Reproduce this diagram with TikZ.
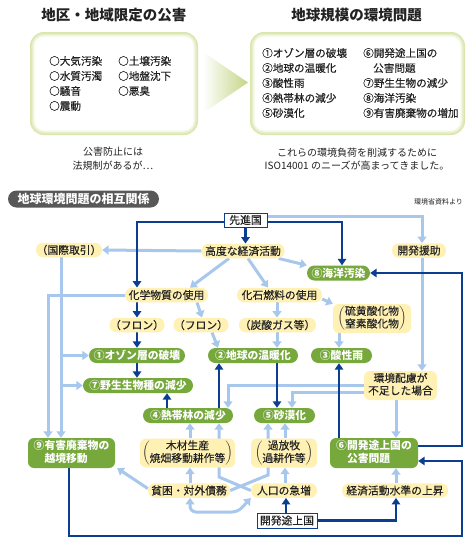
\documentclass[tikz,border=0pt]{standalone}
\usepackage{fontspec}
\setmainfont{Noto Sans CJK JP}
\newfontfamily\jpmed{Noto Sans CJK JP}[FakeBold=0.35]
\usetikzlibrary{arrows.meta}
\pgfdeclarelayer{bg}
\pgfsetlayers{bg,main}
\definecolor{ylw}{HTML}{FFF0B4}
\definecolor{grn}{HTML}{76A83B}
\definecolor{dblue}{HTML}{0B3D91}
\definecolor{lblue}{HTML}{A8C7EC}
\definecolor{gry}{HTML}{585858}
\definecolor{glowA}{HTML}{D9E6AE}
\definecolor{glowB}{HTML}{E6EEC9}
\definecolor{glowC}{HTML}{F2F6E2}
\definecolor{triG}{HTML}{C3D686}
\definecolor{ink}{HTML}{222222}
\newcommand{\fsN}{\fontsize{10.8}{11.8}\selectfont}
\newcommand{\twol}[2]{\begin{tabular}{@{}c@{}}#1\\#2\end{tabular}}
\newcommand{\twoleft}[2]{\begin{tabular}{@{}l@{}}#1\\\hspace{1em}#2\end{tabular}}
\newcommand{\parl}[2]{$\left(\begin{tabular}{@{}c@{}}#1\\#2\end{tabular}\right)$}
\tikzset{
  yp/.style={fill=ylw, text=ink, font=\jpmed\fsN, rounded corners=7pt, minimum height=14.5pt, inner sep=0pt},
  yptwo/.style={fill=ylw, text=ink, font=\jpmed\fsN, rounded corners=6pt, minimum height=29pt, inner sep=0pt},
  gp/.style={fill=grn, text=white, font=\fsN\bfseries, rounded corners=7.5pt, minimum height=15pt, inner sep=0pt},
  gptwo/.style={fill=grn, text=white, font=\fsN\bfseries, rounded corners=6pt, minimum height=30pt, inner sep=0pt},
  bx/.style={draw=dblue, line width=1pt, fill=white, text=ink, font=\jpmed\fsN, minimum height=14pt, inner sep=0pt},
  item/.style={anchor=west, text=ink, font=\jpmed\fontsize{10.6}{11.6}\selectfont, inner sep=0pt},
  note/.style={text=ink, font=\fontsize{10}{11}\selectfont, inner sep=0pt},
  ttl/.style={text=ink, font=\fontsize{14.5}{16}\selectfont\bfseries, inner sep=0pt},
  lb/.style={draw=lblue, line width=3pt, -{Triangle[width=9pt,length=6.5pt]}},
  lbb/.style={draw=lblue, line width=3pt, {Triangle[width=9pt,length=6.5pt]}-{Triangle[width=9pt,length=6.5pt]}, rounded corners=6pt},
  db/.style={draw=dblue, line width=2.8pt, -{Triangle[width=8.5pt,length=6.5pt]}},
}
\begin{document}
\begin{tikzpicture}[x=1pt,y=-1pt]
\useasboundingbox (0,0) rectangle (470,544);
\begin{pgfonlayer}{bg}
\fill[white] (0,0) rectangle (470,544);
\end{pgfonlayer}
% ---------- top part ----------
\node[ttl] (t1) at (114,15) {地区・地域限定の公害};
\node[ttl] (t2) at (356.5,15) {地球規模の環境問題};
\foreach \a/\b/\c/\d/\r in {30/32/198/135/14, 250/32/465/135/14}{
  \fill[glowA, rounded corners=\r pt] (\a,\b) rectangle (\c,\d);
  \fill[glowB, rounded corners=\r pt-1.5pt] (\a+1.5,\b+1.5) rectangle (\c-1.5,\d-1.5);
  \fill[glowC, rounded corners=\r pt-3pt] (\a+3,\b+3) rectangle (\c-3,\d-3);
  \fill[white, rounded corners=\r pt-4.5pt] (\a+4.5,\b+4.5) rectangle (\c-4.5,\d-4.5);
}
\shade[left color=white, right color=triG] (203,52) -- (248,82.5) -- (203,113) -- cycle;
\node[item] (l1) at (49,61) {○大気汚染};
\node[item] (l2) at (49,76) {○水質汚濁};
\node[item] (l3) at (49,91) {○騒音};
\node[item] (l4) at (49,106) {○震動};
\node[item] (l5) at (118,61) {○土壌汚染};
\node[item] (l6) at (118,76) {○地盤沈下};
\node[item] (l7) at (118,91) {○悪臭};
\node[item] (r1) at (262,53) {①オゾン層の破壊};
\node[item] (r2) at (262,68) {②地球の温暖化};
\node[item] (r3) at (262,83) {③酸性雨};
\node[item] (r4) at (262,98) {④熱帯林の減少};
\node[item] (r5) at (262,113) {⑤砂漠化};
\node[item] (r6) at (363,53) {⑥開発途上国の};
\node[item] (r6b) at (373,68) {公害問題};
\node[item] (r7) at (363,83) {⑦野生生物の減少};
\node[item] (r8) at (363,98) {⑧海洋汚染};
\node[item] (r9) at (363,113) {⑨有害廃棄物の増加};
\node[note] (n1) at (113,152) {公害防止には};
\node[note] (n2) at (113,166) {法規制があるが…};
\node[note] (n3) at (357,153) {これらの環境負荷を削減するために};
\node[note] (n4) at (357,166) {ISO14001 のニーズが高まってきました。};
% ---------- lower part ----------
\node[fill=gry, text=white, font=\fontsize{12}{13}\selectfont\bfseries, rounded corners=8.5pt, minimum width=151pt, minimum height=17pt, inner sep=0pt] (ttl3) at (83.5,199) {地球環境問題の相互関係};
\node[text=ink, font=\fontsize{7}{8}\selectfont, inner sep=0pt] (src) at (438.5,202) {環境省資料より};
\node[bx, minimum width=43pt] (sen) at (245.5,220) {先進国};
\node[yp, minimum width=83pt] (kodo) at (243,251) {高度な経済活動};
\node[yp, minimum width=66pt] (kokusai) at (69,250) {（国際取引）};
\node[yp, minimum width=54pt] (enjo) at (419,250.5) {開発援助};
\node[gp, minimum width=63pt] (kaiyo) at (338.5,273) {⑧海洋汚染};
\node[yp, minimum width=83pt] (kagaku) at (166.5,295) {化学物質の使用};
\node[yp, minimum width=85pt] (kaseki) at (279.5,295) {化石燃料の使用};
\node[yptwo, minimum width=78pt] (ryuo) at (372,318.5) {\parl{硫黄酸化物}{窒素酸化物}};
\node[yp, minimum width=55pt] (freonL) at (137,325) {（フロン）};
\node[yp, minimum width=55pt] (freonR) at (201,325) {（フロン）};
\node[yp, minimum width=77pt] (tansan) at (277.5,325) {（炭酸ガス等）};
\node[gp, minimum width=96pt] (ozone) at (137,355.5) {①オゾン層の破壊};
\node[gp, minimum width=90pt] (ondan) at (253,355.5) {②地球の温暖化};
\node[gp, minimum width=61pt] (sansei) at (341.5,355.5) {③酸性雨};
\node[yptwo, minimum width=73pt] (hairyo) at (400.5,385.5) {\twol{環境配慮が}{不足した場合}};
\node[gp, minimum width=110pt] (yasei) at (138,385.5) {⑦野生生物種の減少};
\node[gp, minimum width=90pt] (nettai) at (188,415.5) {④熱帯林の減少};
\node[gp, minimum width=61pt] (sabaku) at (284.5,415.5) {⑤砂漠化};
\node[gptwo, minimum width=87pt] (yugai) at (71.5,453) {\twoleft{⑨有害廃棄物の}{越境移動}};
\node[yptwo, minimum width=95pt] (mokuzai) at (187.5,453) {\parl{木材生産}{焼畑移動耕作等}};
\node[yptwo, minimum width=66pt] (kahoboku) at (284,453) {\parl{過放牧}{過耕作等}};
\node[gptwo, minimum width=88pt] (kaihatsu) at (374,453) {\twoleft{⑥開発途上国の}{公害問題}};
\node[yp, minimum width=82pt] (hinkon) at (189,490.5) {貧困・対外債務};
\node[yp, minimum width=66pt] (jinko) at (284,490.5) {人口の急増};
\node[yp, minimum width=106pt] (keizai) at (395,490.5) {経済活動水準の上昇};
\node[bx, minimum width=60pt, minimum height=15pt] (tojo) at (287,520.5) {開発途上国};
% helper coordinates
\foreach \v in {48,61,69,137,167,190,197,202,212,218,219,228,229,238,248,268,277,285,286,292,339,342,396,422,462}{
  \coordinate (x\v) at (\v,0);
}
\foreach \v in {216,222,385,392,446,461,475,477,512,536}{
  \coordinate (y\v) at (0,\v);
}
\begin{pgfonlayer}{bg}
% ---------- light blue connectors ----------
\draw[lb] (sen.east |- y216) -| (enjo.north -| x422);
\draw[lb] (kodo.west) -- (kokusai.east);
\draw[lb] (kodo.south -| x229) -- (kagaku.north -| x190);
\draw[lb] (kodo.south -| x248) -- (kaseki.north -| x268);
\draw[lb] ([xshift=-6pt]kodo.south east) -- (kaiyo.north west);
\draw[lb] (kagaku.south -| x197) -- (freonR.north -| x202);
\draw[lb] (freonR.south -| x212) -- (ondan.north -| x218);
\draw[lb] (kaseki.south -| x277) -- (tansan.north -| x277);
\draw[lb] (tansan.south -| x277) -- (ondan.north -| x277);
\draw[lb] ([yshift=-4pt]kaseki.east) -- (ryuo.north west);
\draw[lb] (ryuo.south -| x339) -- (sansei.north -| x339);
\draw[lb] (enjo.south -| x422) -- (hairyo.north -| x422);
\draw[lb] (hairyo.south -| x396) -- (kaihatsu.north -| x396);
\draw[lb] (hairyo.west |- y385) -| (nettai.north -| x228);
\draw[lb] (hairyo.west |- y392) -| (sabaku.north -| x292);
\draw[lb] (kagaku.west) -| (yugai.north -| x48);
\draw[lb] (kokusai.south -| x61) -- (yugai.north -| x61);
\draw[lb] (x61 |- ozone.west) -- (ozone.west);
\draw[lb] (x61 |- yasei.west) -- (yasei.west);
\draw[lb] (hinkon.north -| x190) -- (mokuzai.south -| x190);
\draw[lb] (mokuzai.north -| x190) -- (nettai.south -| x190);
\draw[lb] (jinko.north -| x285) -- (kahoboku.south -| x285);
\draw[lb] (kahoboku.north -| x285) -- (sabaku.south -| x285);
\draw[lb] (jinko.west) -- (x219 |- y477) -- (nettai.south -| x219);
\draw[lb] (hinkon.east) -- (x268 |- y475) -- (sabaku.south -| x268);
\draw[lb] ([yshift=2pt]hinkon.west) -- ([xshift=2pt]yugai.south east);
\draw[lbb] (hinkon.south -| x190) -- (x190 |- y512) -- (x238 |- y512) -- (jinko.south west);
\draw[lb] (keizai.north -| x396) -- (kaihatsu.south -| x396);
% ---------- dark blue connectors ----------
\draw[db] (sen.south) -- (kodo.north -| sen.south);
\draw[db] (sen.west |- y222) -| (kagaku.north -| x137);
\draw[db] (sen.east |- y222) -| (kaiyo.north -| x342);
\draw[db] (kagaku.south -| x137) -- (freonL.north -| x137);
\draw[db] (freonL.south -| x137) -- (ozone.north -| x137);
\draw[db] (ozone.south -| x137) -- (yasei.north -| x137);
\draw[db] (nettai.north -| x167) -- (yasei.south -| x167);
\draw[db] (nettai.north -| x219) -- (ondan.south -| x219);
\draw[db] (ondan.south -| x277) -- (sabaku.north -| x277);
\draw[db] (kaihatsu.north -| x339) -- (sansei.south -| x339);
\draw[db] (kaihatsu.east |- y446) -| (x462 |- kaiyo.east) -- (kaiyo.east);
\draw[db] (yugai.south -| x69) |- (x462 |- y536) |- (kaihatsu.east |- y461);
\draw[db] (tojo.north -| x286) -- (jinko.south -| x286);
\draw[db] (tojo.east) -| (keizai.south -| x396);
\end{pgfonlayer}
\end{tikzpicture}
\end{document}
